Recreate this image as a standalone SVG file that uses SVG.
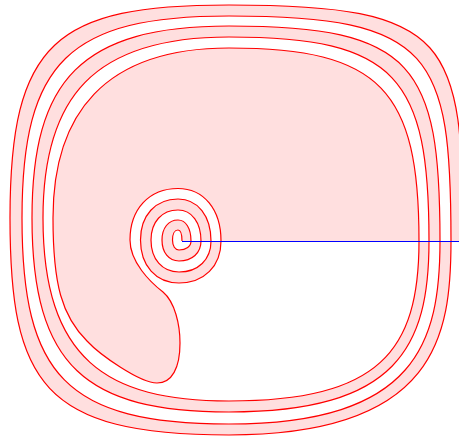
<svg xmlns="http://www.w3.org/2000/svg" width="459" height="437" viewBox="0 0 459 437">
<style>
.spiral{fill:#ffdfdf;fill-rule:evenodd;stroke:#ff0000;stroke-width:1.2;stroke-linejoin:round}
.ray{stroke:#0000ff;stroke-width:1;fill:none}
</style>
<rect width="459" height="437" fill="#ffffff"/>
<g id="spiral-curve">
<path class="spiral" d="M182,241
C182,234.4 180.4,230 178,230
C174.7,230 172.5,234 172.5,240
C172.5,246 175.1,250 179,250
C186.2,250 191,246.4 191,241
C191,228.4 185.8,220 178,220
C168.4,220 162,228 162,240
C162,252.6 168.8,261 179,261
C192.2,261 201,253 201,241
C201,222.4 191.8,210 178,210
C161.8,210 151,222 151,240
C151,259.2 162.2,272 179,272
C198.2,272 211,259.6 211,241
C211,215.8 197.8,199 178,199
C155.5,199 140.5,215.4 140.5,240
C140.5,265.8 155.9,283 179,283
C204.2,283 221,266.2 221,241
C221,209.5 203.8,188.5 178,188.5
C149.2,188.5 130,209.1 130,240
C130,262 150,282 163,292
C175,302 180,325 180,343
C180,368 172,383 157,383
C140,383 100,355 87,341
C62,316 53,285 53,218
C53,114.3 104,48 229,48
C381,48 419,90.5 419,241
C419,351.4 379.1,401 229,401
C106.2,401 43,358.9 43,218
C43,97.6 93.2,37 229,37
C397,37 429,77.8 429,241
C429,347 397,412 229,412
C86.6,412 32,366.8 32,218
C32,79.8 81.2,26 229,26
C414.7,26 440,65.8 440,241
C440,341.7 416.8,424 229,424
C66.1,424 22,375.2 22,218
C22,61.4 69.6,16 229,16
C433.2,16 451,54.25 451,241
C451,334.1 437.7,435 229,435
C42.8,435 10,382.9 10,218
C10,41.2 56,5 229,5
C452.5,5 463,40.4 463,241"/>
</g>
<g id="ray">
<line class="ray" x1="182" y1="241.5" x2="459" y2="241.5"/>
</g>
</svg>
